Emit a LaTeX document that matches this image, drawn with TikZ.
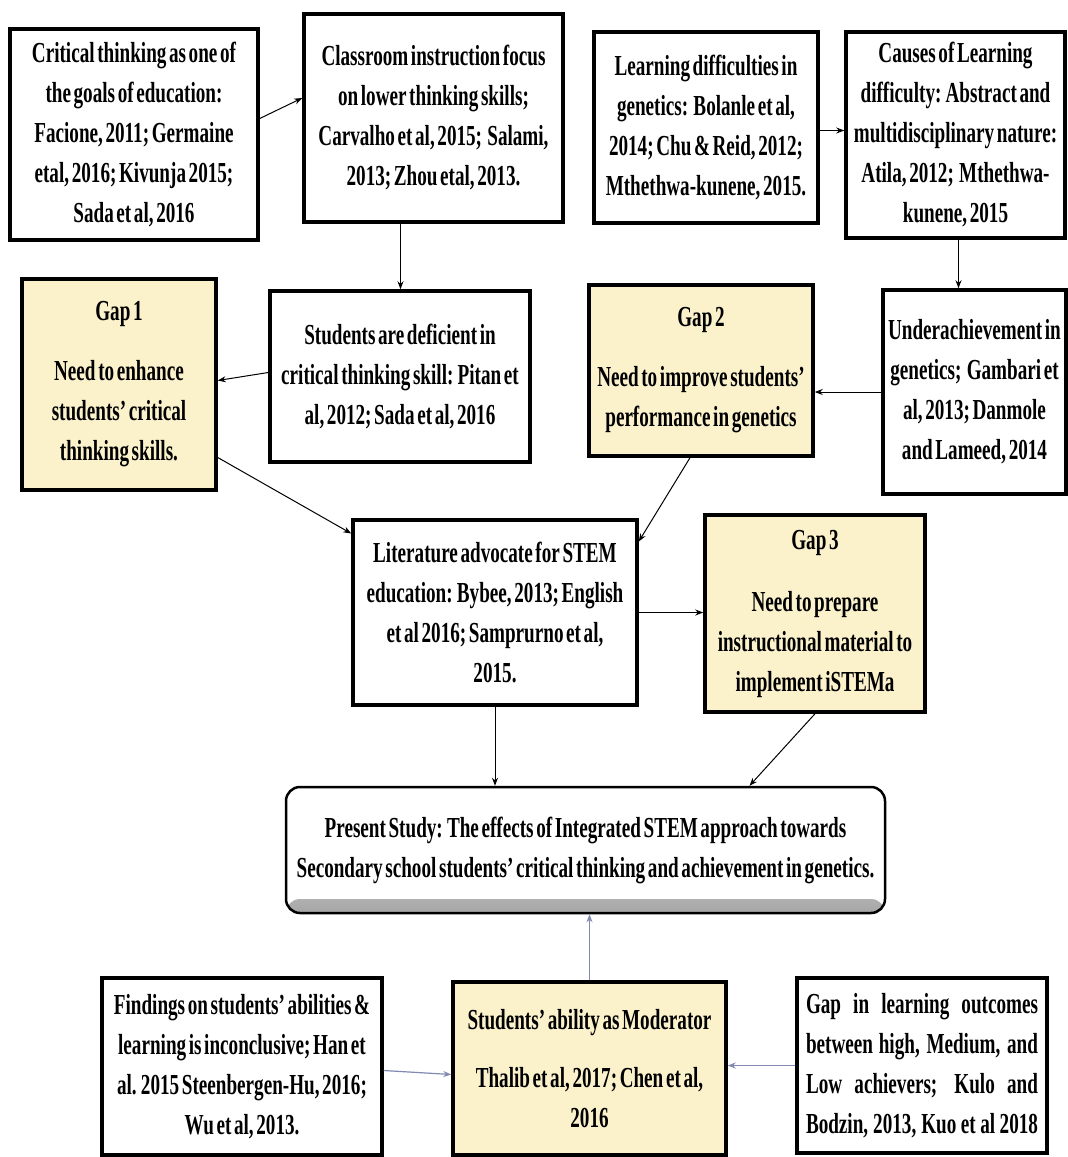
\documentclass[tikz,border=0pt]{standalone}
\usepackage{fontspec}
\setmainfont{Liberation Serif}[FakeStretch=0.66, WordSpace=0.55]
\usetikzlibrary{arrows.meta,calc}
\definecolor{gapfill}{RGB}{251,242,204}
\definecolor{linkblue}{RGB}{128,138,178}
\newcommand\bodyfont{\fontsize{29}{40}\selectfont\bfseries}

\begin{document}
\begin{tikzpicture}[x=1pt,y=-1pt,
  box/.style={draw=black, line width=3.5pt, fill=white, inner sep=0pt,
    align=center, font=\bodyfont},
  gapbox/.style={box, fill=gapfill},
  arr/.style={-{Stealth[length=8pt,width=6pt]}, line width=1pt, draw=black},
  softarr/.style={arr, draw=linkblue, line width=1.2pt},
  study/.style={box, rounded corners=14pt, line width=2.5pt,
    path picture={\shade[top color=white, bottom color=black!35]
      ([yshift=14pt]path picture bounding box.south west)
      rectangle (path picture bounding box.south east);}}
]
\fill[white] (0,0) rectangle (1068,1157);
\useasboundingbox (0,0) rectangle (1068,1157);

% top row
\node[box, minimum width=248pt, minimum height=211pt] (A) at (134,134.5)
  {Critical thinking as one of\\the goals of education:\\Facione, 2011; Germaine\\etal, 2016; Kivunja 2015;\\Sada et al, 2016};
\node[box, minimum width=259pt, minimum height=208pt] (B) at (433.5,118)
  {Classroom instruction focus\\on lower thinking skills;\\Carvalho et al, 2015;\ \ Salami,\\2013; Zhou etal, 2013.};
\node[box, minimum width=224pt, minimum height=191pt] (C) at (706,127.5)
  {Learning difficulties in\\genetics:\ \ Bolanle et al,\\2014; Chu \& Reid, 2012;\\Mthethwa-kunene, 2015.};
\node[box, minimum width=219pt, minimum height=206pt] (D) at (955.5,135)
  {Causes of Learning\\difficulty: Abstract and\\multidisciplinary nature:\\Atila, 2012;\ \ Mthethwa-\\kunene, 2015};

% second row
\node[gapbox, minimum width=194pt, minimum height=211pt] (G1) at (119,384.5)
  {Gap 1\\[20pt]Need to enhance\\students’ critical\\thinking skills.};
\node[box, minimum width=260pt, minimum height=171pt] (E) at (400,376.5)
  {Students are deficient in\\critical thinking skill: Pitan et\\al, 2012; Sada et al, 2016};
\node[gapbox, minimum width=224pt, minimum height=171pt] (G2) at (701,370.5)
  {Gap 2\\[20pt]Need to improve students’\\performance in genetics};
\node[box, minimum width=183pt, minimum height=204pt] (F) at (974.5,392)
  {Underachievement in\\genetics;\ \ Gambari et\\al, 2013; Danmole\\and Lameed, 2014};

% third row
\node[box, minimum width=284pt, minimum height=185pt] (G) at (495,612.5)
  {Literature advocate for STEM\\education: Bybee, 2013; English\\et al 2016; Samprurno et al,\\2015.};
\node[gapbox, minimum width=220pt, minimum height=197pt] (G3) at (815,613.5)
  {Gap 3\\[22pt]Need to prepare\\instructional material to\\implement iSTEMa};

% present study
\node[study, minimum width=599pt, minimum height=126pt] (H) at (585.5,850)
  {Present Study: The effects of Integrated STEM approach towards\\Secondary school students’ critical thinking and achievement in genetics.};

% bottom row
\node[box, minimum width=280pt, minimum height=177pt] (I) at (242,1066.5)
  {Findings on students’ abilities \&\\learning is inconclusive; Han et\\al. 2015 Steenbergen-Hu, 2016;\\Wu et al, 2013.};
\node[gapbox, minimum width=273pt, minimum height=173pt] (J) at (589.5,1068.5)
  {Students’ ability as Moderator\\[18pt]Thalib et al, 2017; Chen et al,\\2016};
\node[box, minimum width=250pt, minimum height=175pt] (K) at (922,1065.5)
  {\makebox[232pt][s]{Gap in learning outcomes}\\
   \makebox[232pt][s]{between high, Medium, and}\\
   \makebox[232pt][s]{Low achievers; Kulo and}\\
   \makebox[232pt][s]{Bodzin, 2013, Kuo et al 2018}};

% connectors
\draw[arr] ([yshift=16pt]A.east) -- ([yshift=20pt]B.west);
\draw[arr] ([xshift=-33pt]B.south) -- ([xshift=-33pt]B.south |- E.north);
\draw[arr] ([yshift=-3pt]C.east) -- ([yshift=-3pt]C.east -| D.west);
\draw[arr] ([xshift=3pt]D.south) -- ([xshift=3pt]D.south |- F.north);
\draw[arr] ([yshift=4pt]E.west) -- ([yshift=4pt]G1.east);
\draw[arr] (F.west) -- (F.west -| G2.east);
\draw[arr] ([yshift=-73pt]G1.east) -- ([yshift=79pt]G.west);
\draw[arr] ([xshift=-11pt]G2.south) -- ([yshift=71pt]G.east);
\draw[arr] (G.east) -- (G.east -| G3.west);
\draw[arr] (G.south) -- (G.south |- H.north);
\draw[arr] (G3.south) -- ([xshift=164pt]H.north);
\draw[softarr] (J.north) -- (J.north |- H.south);
\draw[softarr] ([yshift=-4pt]I.east) -- ([yshift=-6pt]J.west);
\draw[softarr] (K.west) -- (K.west -| J.east);
\end{tikzpicture}
\end{document}
